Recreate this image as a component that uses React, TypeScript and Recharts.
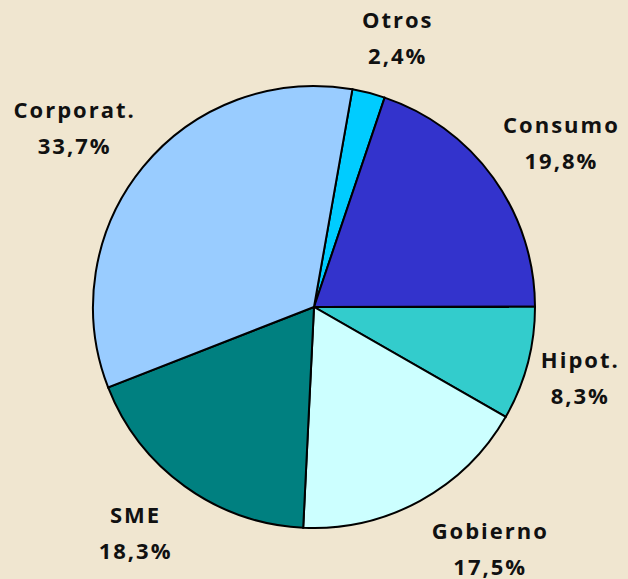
import React from 'react'
import { PieChart, Pie, Cell } from 'recharts'

// Loan portfolio split
const NAMES = ['Otros', 'Consumo', 'Hipot.', 'Gobierno', 'SME', 'Corporat.']
const VALUES = [2.4, 19.8, 8.3, 17.5, 18.3, 33.7]
const COLORS = ['#00CCFF', '#3333CC', '#33CCCC', '#CCFFFF', '#008080', '#99CCFF']

// label nudges after placing at midAngle
const LABEL_SHIFT = [
    [12, 2],
    [12, -5],
    [-14, -13],
    [37, -22],
    [-9, -19],
    [-15, -5],
]

const data = NAMES.map((name, i) => ({ name, value: VALUES[i] }))

const RAD = Math.PI / 180

function renderLabel(props: any) {
    const { cx, cy, midAngle, outerRadius, index } = props
    const r = outerRadius + 69
    const x = cx + r * Math.cos(-midAngle * RAD) + LABEL_SHIFT[index][0]
    const y = cy + r * Math.sin(-midAngle * RAD) + LABEL_SHIFT[index][1]
    const pct = VALUES[index].toFixed(1).replace('.', ',') + '%'
    return (
        <text
            x={x}
            y={y}
            textAnchor="middle"
            fill="#111"
            fontFamily="'Open Sans', sans-serif"
            fontWeight="bold"
            fontSize={22}
            letterSpacing={2}
        >
            <tspan x={x} y={y}>{NAMES[index]}</tspan>
            <tspan x={x} y={y + 36}>{pct}</tspan>
        </text>
    )
}

export default function App() {
    return (
        <div style={{ position: 'fixed', top: 0, left: 0, width: 628, height: 579, background: '#F0E6D0' }}>
            <PieChart width={628} height={579} margin={{ top: 0, right: 0, bottom: 0, left: 0 }}>
                <Pie
                    data={data}
                    dataKey="value"
                    nameKey="name"
                    cx={314}
                    cy={307}
                    outerRadius={221}
                    startAngle={80}
                    endAngle={-280}
                    labelLine={false}
                    label={renderLabel}
                    isAnimationActive={false}
                >
                    {data.map((entry, index) => (
                        <Cell key={`cell-${index}`} fill={COLORS[index]} stroke="#000" strokeWidth={2} />
                    ))}
                </Pie>
            </PieChart>
        </div>
    )
}
